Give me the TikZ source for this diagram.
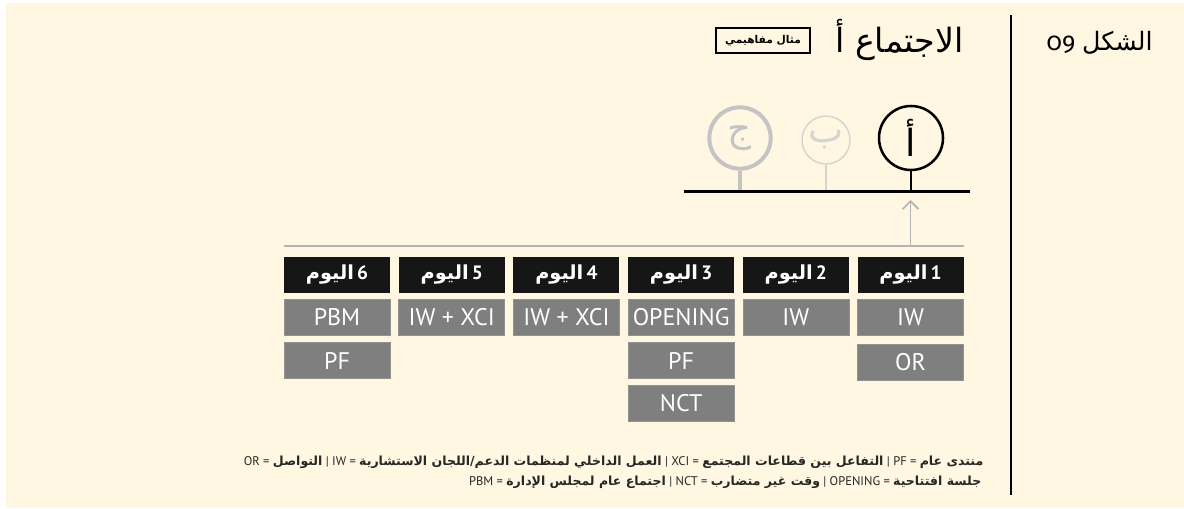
\documentclass[tikz,border=0pt]{standalone}
\usepackage{fontspec}
\setmainfont{PT Sans}
\newfontfamily\arabicfont[Script=Arabic]{DejaVu Sans}
\newfontfamily\oldstylefont[Numbers=OldStyle]{Fira Sans}
\TeXXeTstate=1
\usetikzlibrary{arrows.meta,positioning}
\definecolor{paper}{HTML}{FFF7E1}
\definecolor{slotgrey}{HTML}{7F7F7F}
\definecolor{dayblack}{HTML}{161616}
\definecolor{railgrey}{HTML}{B4B4B4}
\definecolor{palegrey}{HTML}{D4D4D4}
\definecolor{midgrey}{HTML}{C4C4C4}
\definecolor{keytext}{HTML}{262626}
\tikzset{
  daybox/.style={fill=dayblack,text=white,minimum width=79.5pt,minimum height=27pt,
    inner sep=0pt,font=\bfseries\fontsize{14.5}{16}\selectfont},
  slotbox/.style={fill=slotgrey,draw=slotgrey!85!white,text=white,minimum width=79.5pt,
    minimum height=27pt,inner sep=0pt,font=\fontsize{18}{20}\selectfont},
  marker/.style={circle,draw,inner sep=0pt,font=\arabicfont\fontsize{28}{30}\selectfont},
  keyline/.style={anchor=east,text=keytext,font=\fontsize{9.4}{11}\selectfont},
}
\newcommand{\Ar}[1]{\hbox{\arabicfont\beginR #1\endR}}
\newcommand{\ArB}[1]{\hbox{\arabicfont\bfseries\beginR #1\endR}}
\newcommand{\Day}[3]% x, name, number
{\node[daybox] (#2) at (#1,274.5) {\ArB{اليوم}\,#3};}
\newcommand{\Slot}[3]% pos, name, label
{\node[slotbox] (#2) at (#1) {#3};}
\newcommand{\Marker}[4]% pos, name, letter, style
{\node[marker,#4] (#2) at (#1) {\beginR #3\endR};
  \draw[#4] (#2.south) -- (#2.south |- railL);
}

\begin{document}
\begin{tikzpicture}[x=0.75pt,y=-0.75pt]
  \useasboundingbox (0,0) rectangle (1184,508);
  \fill[paper] (6,3) rectangle (1184,508);
  % header
  \coordinate (sepT) at (1011,15);
  \coordinate (sepB) at (1011,495);
  \draw[line width=1.8pt] (sepT) -- (sepB);
  \node[anchor=west,font=\fontsize{19}{22}\selectfont] (fig) at (1042,43)
    {{\oldstylefont 09}~\Ar{الشكل}};
  \node[anchor=east,font=\arabicfont\fontsize{25}{30}\selectfont] (title) at (968,40)
    {\beginR الاجتماع أ\endR};
  \node[draw,line width=1.1pt,minimum width=70.5pt,minimum height=18.75pt,inner sep=0pt,
    font=\fontsize{8}{10}\selectfont] (tag) at (763,40.5)
    {\ArB{مثال مفاهيمي}};
  % meetings
  \coordinate (railL) at (684,191.5);
  \coordinate (railR) at (970,191.5);
  \Marker{911,138}{A}{أ}{line width=1.9pt,minimum size=48pt}
  \Marker{826,140}{B}{ب}{palegrey,line width=1.1pt,minimum size=36pt}
  \Marker{740,138}{C}{ج}{midgrey,line width=3pt,minimum size=46pt}
  \draw[line width=2.2pt] (railL) -- (railR);
  % days
  \coordinate (lineL) at (284,246);
  \coordinate (lineR) at (964,246);
  \coordinate (upTip) at (910.5,200);
  \draw[railgrey,line width=1.5pt] (lineL) -- (lineR);
  \draw[railgrey,line width=1.2pt,-{Straight Barb[length=6pt,width=12pt]}] (lineL -| upTip) -- (upTip);
  \Day{910.5}{d1}{1}
  \Day{795.8}{d2}{2}
  \Day{681.1}{d3}{3}
  \Day{566.4}{d4}{4}
  \Day{451.7}{d5}{5}
  \Day{337}{d6}{6}
  \Slot{910.5,317.5}{d1a}{IW}
  \Slot{910.5,362}{d1b}{OR}
  \Slot{795.8,317.5}{d2a}{IW}
  \Slot{681.1,317.5}{d3a}{OPENING}
  \Slot{681.1,360.7}{d3b}{PF}
  \Slot{681.1,403.5}{d3c}{NCT}
  \Slot{566.4,317.5}{d4a}{IW + XCI}
  \Slot{451.7,317.5}{d5a}{IW + XCI}
  \Slot{337,317.5}{d6a}{PBM}
  \Slot{337,360.7}{d6b}{PF}
  % key
  \node[keyline] (key1) at (988,462)
    {OR = \ArB{التواصل} | IW = \ArB{العمل الداخلي لمنظمات الدعم/اللجان الاستشارية} |
     XCI = \ArB{التفاعل بين قطاعات المجتمع} | PF = \ArB{منتدى عام}};
  \node[keyline] (key2) at (986,482)
    {PBM = \ArB{اجتماع عام لمجلس الإدارة} | NCT = \ArB{وقت غير متضارب} |
     OPENING = \ArB{جلسة افتتاحية}};
\end{tikzpicture}
\end{document}
